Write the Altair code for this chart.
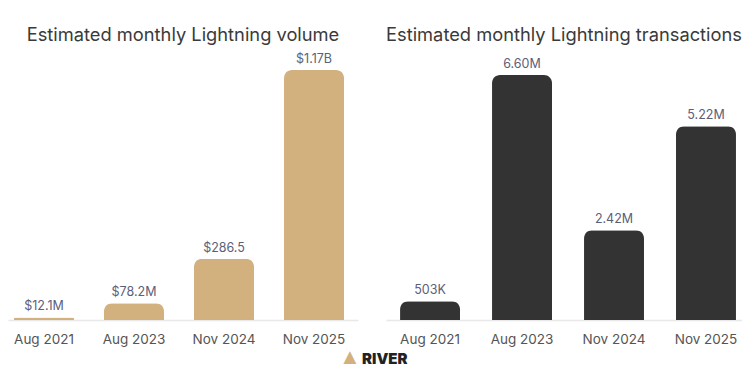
import altair as alt
import pandas as pd

periods = ["Aug 2021", "Aug 2023", "Nov 2024", "Nov 2025"]
volume_musd = [12.1, 78.2, 286.5, 1170.0]
volume_labels = ["$12.1M", "$78.2M", "$286.5", "$1.17B"]
tx_millions = [0.503, 6.60, 2.42, 5.22]
tx_labels = ["503K", "6.60M", "2.42M", "5.22M"]

left_title = "Estimated monthly Lightning volume"
right_title = "Estimated monthly Lightning transactions"
logo_text = "RIVER"

GOLD = "#D2B17E"
DARK = "#333333"
FONT = "Inter"
H = 270

vol_df = pd.DataFrame({"period": periods, "value": volume_musd, "label": volume_labels})
tx_df = pd.DataFrame({"period": periods, "value": tx_millions, "label": tx_labels})


def panel(df, color, ymax, title, xscale, width):
    x = alt.X("period:N", sort=periods, scale=xscale,
              axis=alt.Axis(title=None, labelAngle=0, ticks=False, domain=True,
                            domainColor="#e8e8e8", domainWidth=1.5,
                            labelColor="#555555", labelFont=FONT, labelFontSize=13.5,
                            labelPadding=12, grid=False))
    y = alt.Y("value:Q", scale=alt.Scale(domain=[0, ymax], nice=False, zero=True), axis=None)
    base = alt.Chart(df).encode(x=x, y=y)
    bars = base.mark_bar(color=color, cornerRadiusTopLeft=8, cornerRadiusTopRight=8)
    labels = base.mark_text(baseline="bottom", dy=-4, font=FONT, fontSize=12.5,
                            color="#5b6079").encode(text="label:N")
    return alt.layer(bars, labels).properties(
        width=width, height=H,
        title=alt.TitleParams(title, font=FONT, fontSize=18.3, fontWeight="normal",
                              color="#3a3a3a", anchor="middle", offset=5))


left = panel(vol_df, GOLD, 1170 * H / 250, left_title,
             alt.Scale(paddingInner=1 / 3, paddingOuter=0.111, align=0.3), 350)
right_base = panel(tx_df, DARK, 6.60 * H / 245, right_title,
                   alt.Scale(paddingInner=0.348, paddingOuter=0.109, align=0.7), 356)

logo_df = pd.DataFrame({"icon": ["▲"], "txt": [logo_text]})
icon = alt.Chart(logo_df).mark_text(color=GOLD, fontSize=22, align="center",
                                    baseline="middle").encode(
    x=alt.value(-36), y=alt.value(H + 37), text="icon:N")
logo = alt.Chart(logo_df).mark_text(color="#222222", fontSize=15, fontWeight=900,
                                    font=FONT, align="left", baseline="middle").encode(
    x=alt.value(-24), y=alt.value(H + 39), text="txt:N")

right = alt.layer(right_base, icon, logo)

chart = alt.hconcat(left, right, spacing=28, bounds="flush").properties(
    padding={"left": 0, "right": 0, "top": 17, "bottom": 0},
    background="white"
).configure_view(strokeWidth=0, stroke="transparent")

chart.save("out.html", embed_options={"renderer": "svg", "actions": False})
